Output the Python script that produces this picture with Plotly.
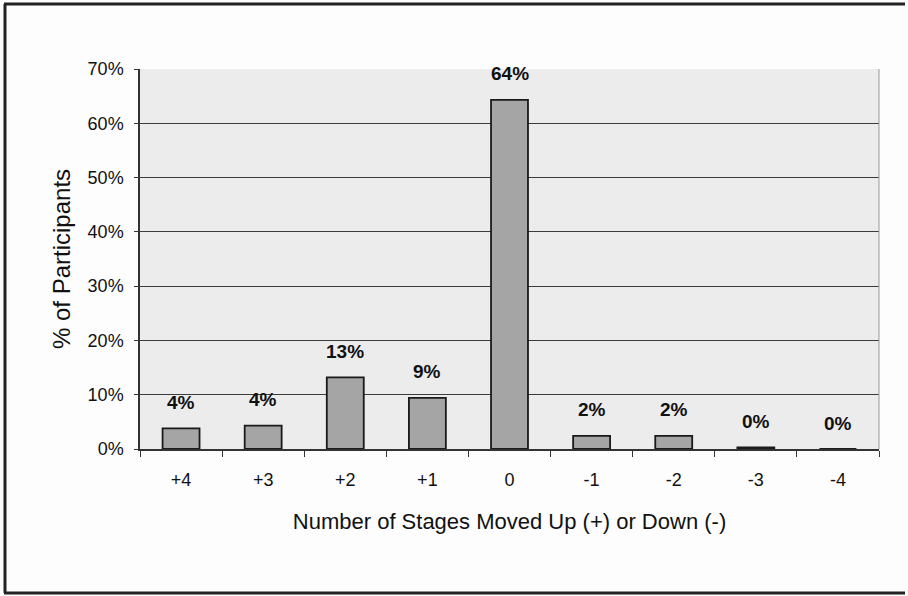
import plotly.graph_objects as go

# Change in stage between the two assessments
stages = ["+4", "+3", "+2", "+1", "0", "-1", "-2", "-3", "-4"]
share = [0.038, 0.043, 0.132, 0.094, 0.643, 0.024, 0.024, 0.003, 0.0]

W, H = 908, 596
ML, MR, MT, MB = 140, 29, 69, 147

fig = go.Figure(
    go.Bar(
        x=stages,
        y=share,
        width=0.45,
        marker=dict(color="#a5a5a5", line=dict(color="#1a1a1a", width=1.8)),
        hoverinfo="skip",
    )
)

# value labels above each bar (x given as category index)
for i, v in enumerate(share):
    fig.add_annotation(
        x=i, y=v, text=f"<b>{v:.0%}</b>", showarrow=False,
        yshift=26, yanchor="middle",
        font=dict(family="Liberation Sans, Arial, sans-serif", size=19, color="#111111"),
    )

# outer frame of the chart (top, left, bottom)
pw, ph = W - ML - MR, H - MT - MB
def px_x(x):
    return (x - ML) / pw
def px_y(y):
    return 1 - (y - MT) / ph

frame = dict(color="#222222", width=3)
fig.add_shape(type="line", xref="paper", yref="paper",
              x0=px_x(4), x1=px_x(W - 3), y0=px_y(4), y1=px_y(4), line=frame)
fig.add_shape(type="line", xref="paper", yref="paper",
              x0=px_x(5), x1=px_x(5), y0=px_y(4), y1=px_y(593), line=frame)
fig.add_shape(type="line", xref="paper", yref="paper",
              x0=px_x(4), x1=px_x(W - 3), y0=px_y(593), y1=px_y(593), line=frame)
# right edge of plotting area
fig.add_shape(type="line", xref="paper", yref="paper",
              x0=1, x1=1, y0=0, y1=1, line=dict(color="#9a9a9a", width=1))

fig.update_layout(
    width=W, height=H,
    margin=dict(l=ML, r=MR, t=MT, b=MB),
    paper_bgcolor="#fdfdfd",
    plot_bgcolor="#ececec",
    showlegend=False,
    bargap=0.55,
    font=dict(family="Liberation Sans, Arial, sans-serif", color="#111111"),
)

fig.update_xaxes(
    type="category",
    range=[-0.5, len(stages) - 0.5],
    tickson="boundaries",
    ticks="outside", ticklen=6, tickcolor="#333333", tickwidth=1,
    showline=True, linecolor="#333333", linewidth=1.5,
    showgrid=False,
    tickfont=dict(size=18),
    ticklabelstandoff=14,
    title=dict(text="Number of Stages Moved Up (+) or Down (-)",
               font=dict(size=22), standoff=24),
)

fig.update_yaxes(
    range=[0, 0.7], dtick=0.1, tickformat=".0%",
    showgrid=True, gridcolor="#3c3c3c", gridwidth=1.2,
    ticks="outside", ticklen=4, tickcolor="#333333",
    showline=True, linecolor="#333333", linewidth=1.5,
    zeroline=False,
    tickfont=dict(size=18),
    ticklabelstandoff=7,
    title=dict(text="% of Participants", font=dict(size=24), standoff=10),
)

fig.write_html("out.html")
